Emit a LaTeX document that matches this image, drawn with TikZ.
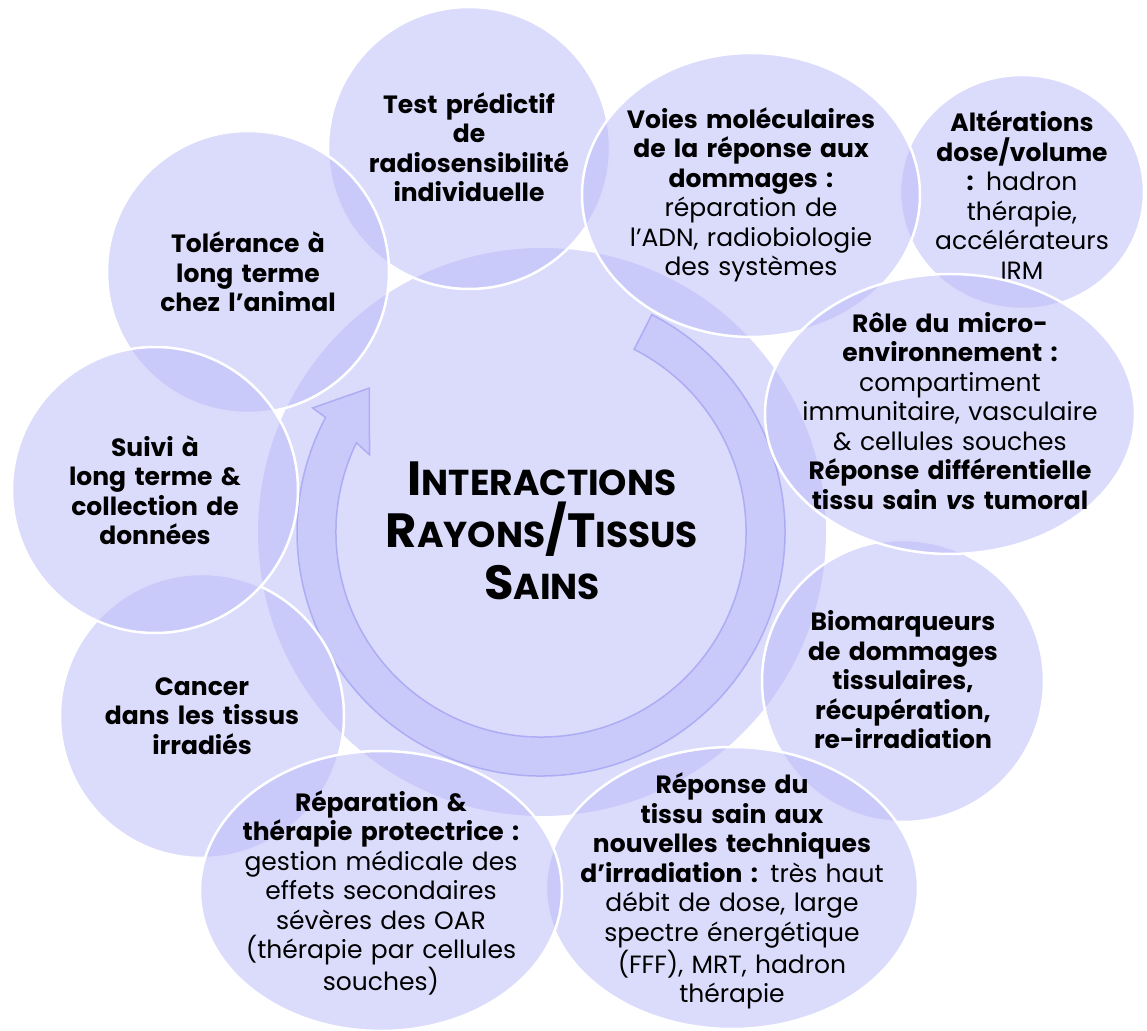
\documentclass[tikz,border=0pt]{standalone}
\usepackage{fontspec}
\setmainfont{Poppins}
\usetikzlibrary{shapes.geometric}
\definecolor{bub}{RGB}{183,183,249}
\definecolor{arrline}{RGB}{150,150,240}
\newcommand\mybigcap[1]{{\fontsize{24pt}{26pt}\selectfont #1}}
\newcommand\mysmlcap[1]{{\fontsize{18pt}{26pt}\selectfont #1}}
\begin{document}
\begin{tikzpicture}[x=0.5pt,y=-0.5pt,
  bubble/.style={ellipse, fill=bub, fill opacity=0.5, draw=white, draw opacity=1, line width=1.25pt, inner sep=0pt},
  lbl/.style={align=center, text width=200pt, inner sep=0pt, font=\fontsize{12.5pt}{14.75pt}\selectfont, text=black}]
\useasboundingbox (0,0) rectangle (1147,1031);

% central circle
\node[bubble, draw=none, minimum width=284pt, minimum height=284pt] (core) at (542,532) {};
% circular arrow
\path[fill=bub, fill opacity=0.5, draw=arrline, draw opacity=0.6, line width=0.75pt, shift={(541,532)}]
  (-63:244) arc[start angle=-63, end angle=208, radius=244]
  -- (208.5:260) -- (220:224) -- (204.2:188) -- (205.8:205)
  arc[start angle=205.8, end angle=-63, radius=205] -- cycle;
\node[align=center, inner sep=0pt, font=\bfseries\fontsize{24pt}{26pt}\selectfont] (coretxt) at (542,531)
  {\mybigcap{I}\mysmlcap{NTERACTIONS}\\\mybigcap{R}\mysmlcap{AYONS}\mybigcap{/T}\mysmlcap{ISSUS}\\\mybigcap{S}\mysmlcap{AINS}};

% outer bubbles (drawing order matters)
\node[bubble, minimum width=141pt, minimum height=141pt] (test) at (469,148) {};
\node[lbl] (test-t) at (469,147) {\bfseries Test prédictif\\de\\radiosensibilité\\individuelle};

\node[bubble, minimum width=122pt, minimum height=117pt] (alt) at (1022,192) {};
\node[lbl] (alt-t) at (1022,195) {\textbf{Altérations\\dose/volume\\:} hadron\\thérapie,\\accélérateurs\\IRM};

\node[bubble, minimum width=141pt, minimum height=141pt] (bio) at (903,681) {};
\node[lbl] (bio-t) at (903,680) {\bfseries Biomarqueurs\\de dommages\\tissulaires,\\récupération,\\re-irradiation};

\node[bubble, minimum width=142pt, minimum height=142pt] (can) at (202,716) {};
\node[lbl] (can-t) at (202,716) {\bfseries Cancer\\dans les tissus\\irradiés};

\node[bubble, minimum width=141pt, minimum height=141pt] (tol) at (248,272) {};
\node[lbl] (tol-t) at (248,272) {\bfseries Tolérance à\\long terme\\chez l’animal};

\node[bubble, minimum width=143pt, minimum height=143pt] (sui) at (155,490) {};
\node[lbl] (sui-t) at (155,490) {\bfseries Suivi à\\long terme \&\\collection de\\données};

\node[bubble, minimum width=169pt, minimum height=142pt] (voi) at (751,195) {};
\node[lbl] (voi-t) at (751,195) {\textbf{Voies moléculaires\\de la réponse aux\\dommages :}\\réparation de\\l’ADN, radiobiologie\\des systèmes};

\node[bubble, minimum width=185pt, minimum height=140pt] (role) at (950,414) {};
\node[lbl] (role-t) at (950,411) {\textbf{Rôle du micro-\\environnement :}\\compartiment\\immunitaire, vasculaire\\\& cellules souches\\\textbf{Réponse différentielle\\tissu sain \textit{vs} tumoral}};

\node[bubble, minimum width=186pt, minimum height=141pt] (rep) at (732,888) {};
\node[lbl] (rep-t) at (732,891) {\textbf{Réponse du\\tissu sain aux\\nouvelles techniques\\d’irradiation :} très haut\\débit de dose, large\\spectre énergétique\\(FFF), MRT, hadron\\thérapie};

\node[bubble, minimum width=181pt, minimum height=140pt] (par) at (381,891) {};
\node[lbl] (par-t) at (381,893) {\textbf{Réparation \&\\thérapie protectrice :}\\gestion médicale des\\effets secondaires\\sévères des OAR\\(thérapie par cellules\\souches)};
\end{tikzpicture}
\end{document}
